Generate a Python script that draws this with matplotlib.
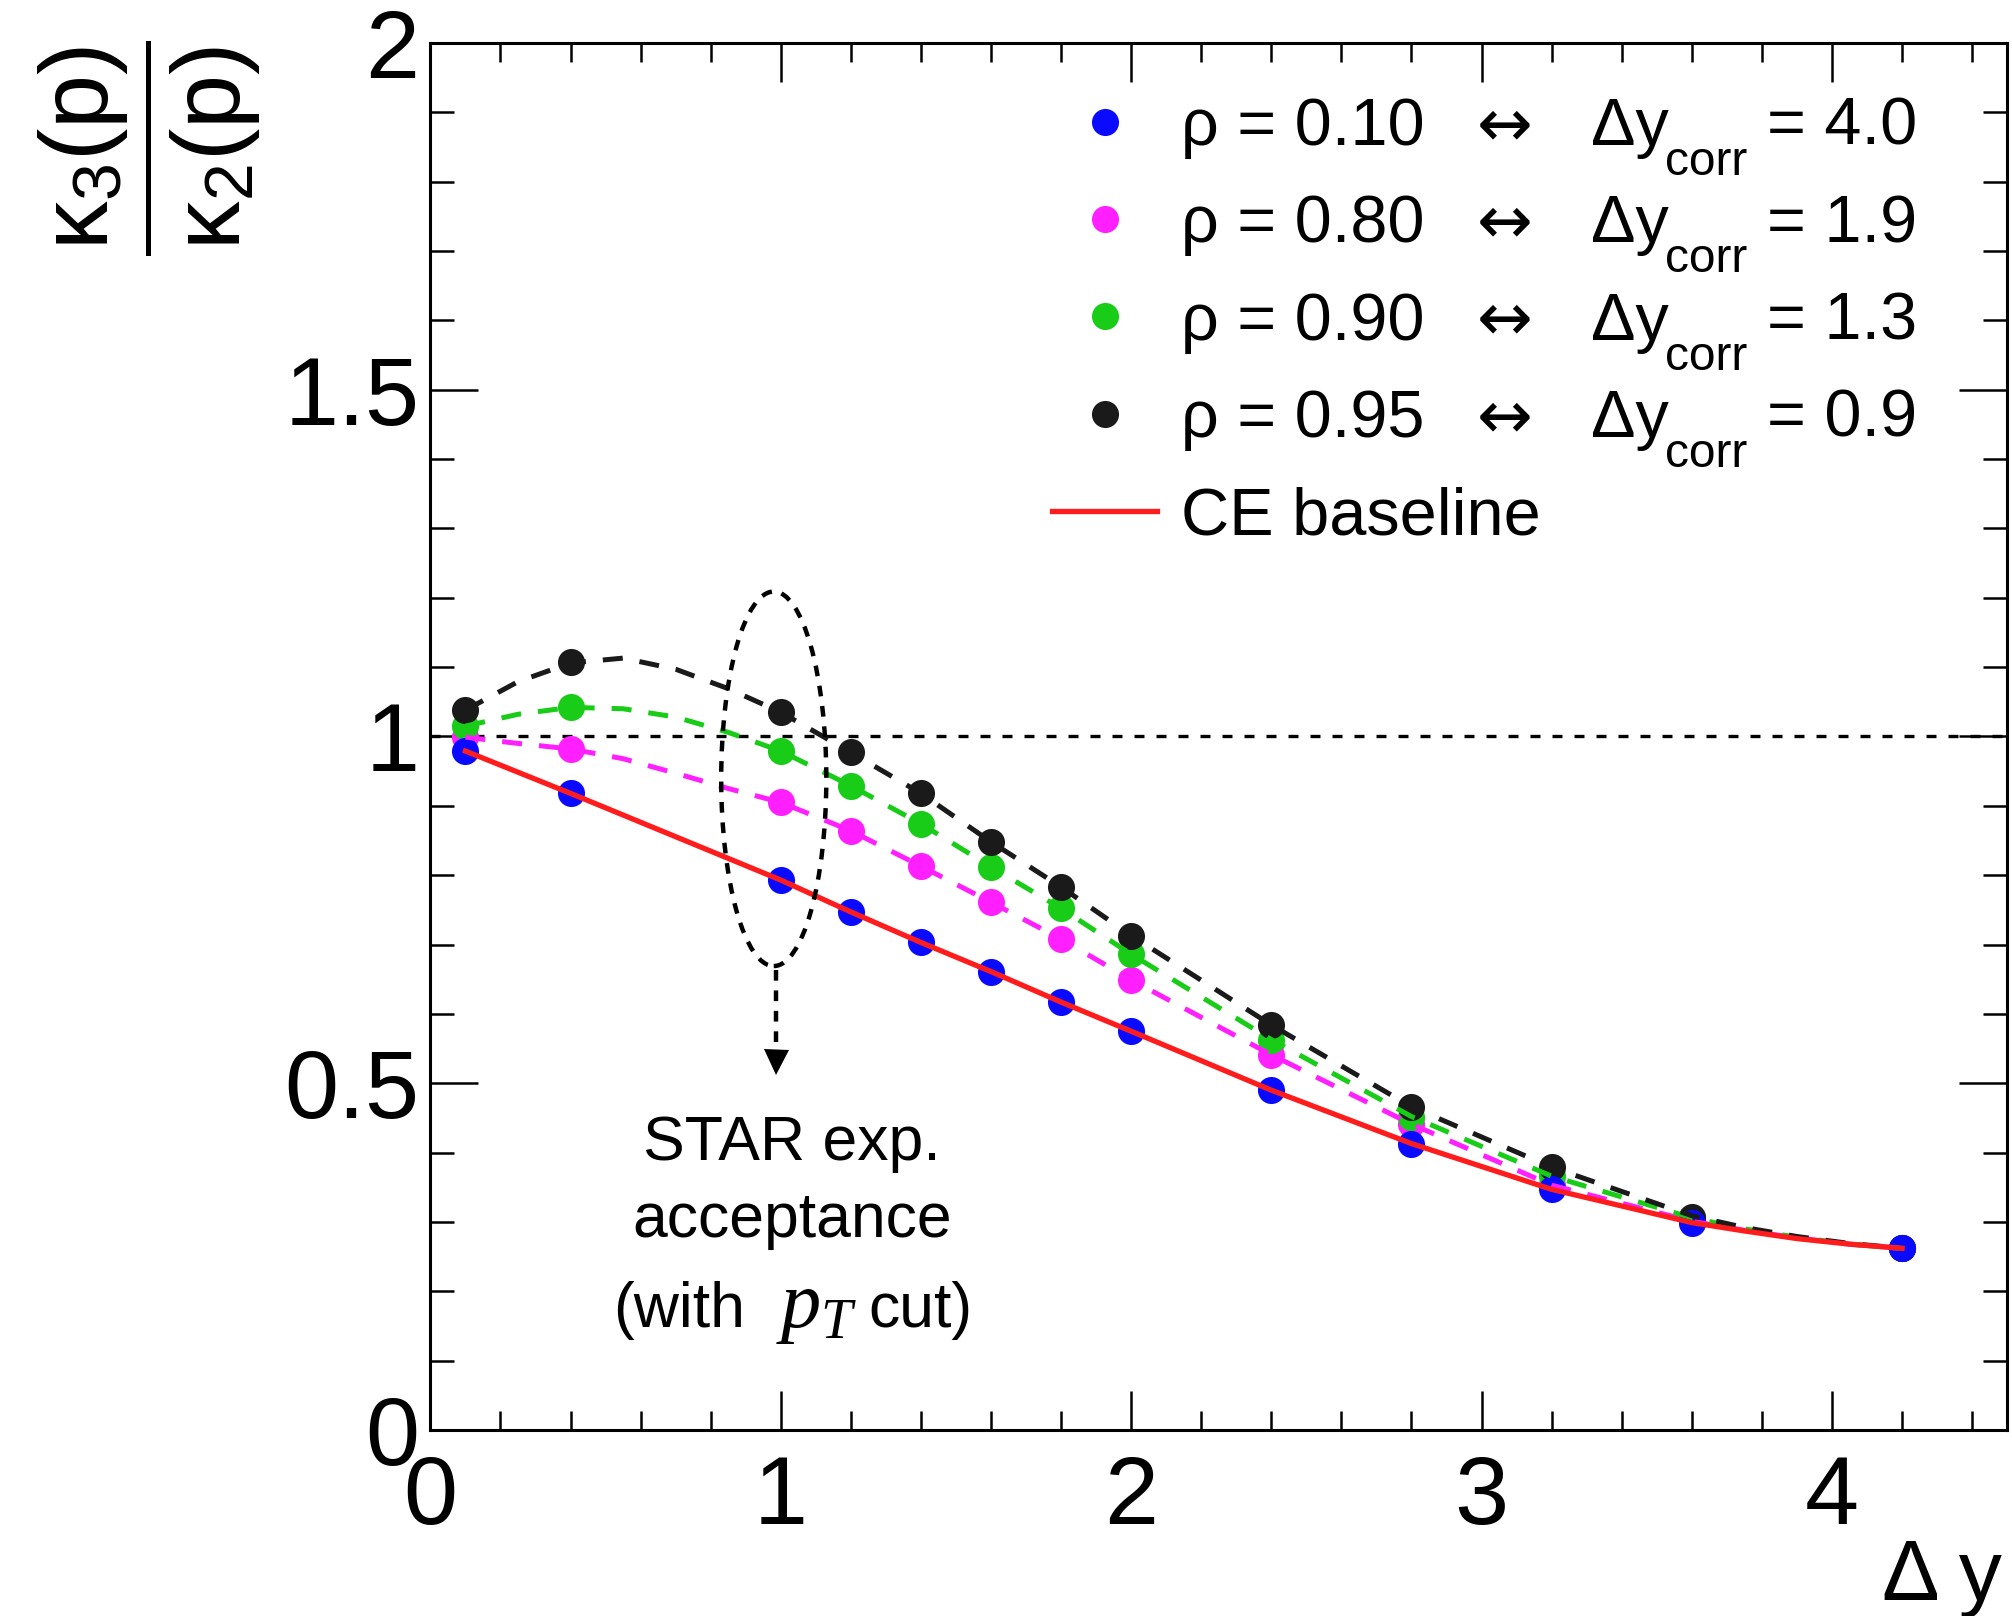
import matplotlib
matplotlib.use('Agg')
import matplotlib.pyplot as plt
from matplotlib.patches import Ellipse
from matplotlib.lines import Line2D
from matplotlib.ticker import MultipleLocator

plt.rcParams['font.family'] = ['Liberation Sans', 'DejaVu Sans']
plt.rcParams['mathtext.fontset'] = 'custom'
plt.rcParams['mathtext.rm'] = 'Liberation Sans'
plt.rcParams['mathtext.it'] = 'Liberation Serif:italic'
plt.rcParams['mathtext.bf'] = 'Liberation Sans:bold'
plt.rcParams['mathtext.sf'] = 'Liberation Sans'

# ---------------- data ----------------
dy = [0.1, 0.4, 1.0, 1.2, 1.4, 1.6, 1.8, 2.0, 2.4, 2.8, 3.2, 3.6, 4.2]
rho_010 = [0.979, 0.918, 0.793, 0.747, 0.703, 0.661, 0.617, 0.575, 0.490, 0.413, 0.347, 0.299, 0.262]
rho_080 = [0.999, 0.982, 0.905, 0.864, 0.813, 0.761, 0.708, 0.649, 0.541, 0.441, 0.353, 0.301, 0.262]
rho_090 = [1.015, 1.042, 0.979, 0.929, 0.874, 0.812, 0.752, 0.686, 0.563, 0.452, 0.366, 0.306, 0.262]
rho_095 = [1.038, 1.108, 1.035, 0.977, 0.918, 0.848, 0.783, 0.713, 0.584, 0.466, 0.379, 0.307, 0.262]

# curves
dy_curve = [0.1, 0.25, 0.4, 0.55, 0.7, 0.85, 1.0, 1.2, 1.4, 1.6, 1.8, 2.0, 2.4, 2.8, 3.2, 3.6, 3.75, 3.9, 4.05, 4.2]
curve_080 = [0.999, 0.990, 0.982, 0.968, 0.947, 0.925, 0.905, 0.864, 0.813, 0.761, 0.708, 0.649, 0.541, 0.441, 0.353, 0.301, 0.288, 0.277, 0.268, 0.262]
curve_090 = [1.015, 1.032, 1.042, 1.040, 1.028, 1.006, 0.979, 0.929, 0.874, 0.812, 0.752, 0.686, 0.563, 0.452, 0.366, 0.306, 0.290, 0.278, 0.268, 0.262]
curve_095 = [1.038, 1.079, 1.106, 1.113, 1.097, 1.069, 1.035, 0.977, 0.918, 0.848, 0.783, 0.713, 0.584, 0.466, 0.379, 0.309, 0.292, 0.279, 0.269, 0.262]
dy_ce = [0.1, 0.4, 1.0, 1.2, 1.4, 1.6, 1.8, 2.0, 2.4, 2.8, 3.2, 3.6, 3.75, 3.9, 4.05, 4.2]
ce_baseline = [0.979, 0.918, 0.793, 0.747, 0.703, 0.661, 0.617, 0.575, 0.490, 0.413, 0.347, 0.299, 0.287, 0.276, 0.268, 0.262]

rho_labels = ["0.10", "0.80", "0.90", "0.95"]
dycorr_labels = ["4.0", "1.9", "1.3", "0.9"]
colors = ['#0a0aff', '#ff1fff', '#18cc18', '#1a1a1a']
red = '#ff1c1c'

x_ticks = [0, 1, 2, 3, 4]
x_ticklabels = ["0", "1", "2", "3", "4"]
y_ticks = [0, 0.5, 1, 1.5, 2]
y_ticklabels = ["0", "0.5", "1", "1.5", "2"]

# ---------------- figure ----------------
W, H = 2012, 1616
fig = plt.figure(figsize=(W / 100, H / 100), dpi=100)
ax = fig.add_axes([0.2139, 0.1151, 0.7837, 0.8583])
ax.set_xlim(0, 4.5)
ax.set_ylim(0, 2)

ms = 19.5
series = [rho_010, rho_080, rho_090, rho_095]
for idx in [1, 2, 3, 0]:
    ax.plot(dy, series[idx], ls='none', marker='o', ms=ms, color=colors[idx],
            markeredgewidth=0, zorder=3)

dash = (0, (4.0, 3.4))
ax.plot(dy_curve, curve_080, ls=dash, lw=3.6, color=colors[1], zorder=4)
ax.plot(dy_curve, curve_090, ls=dash, lw=3.6, color=colors[2], zorder=4)
ax.plot(dy_curve, curve_095, ls=dash, lw=3.6, color=colors[3], zorder=4)
ax.plot(dy_ce, ce_baseline, ls='-', lw=3.8, color=red, zorder=5)

ax.axhline(1.0, ls=(0, (3.0, 3.6)), lw=2.4, color='black', zorder=2)

# acceptance ellipse and arrow
ell = Ellipse((0.98, 0.939), width=0.30, height=0.54, fill=False,
              ec='black', lw=3.2, ls=(0, (2.4, 2.2)), zorder=6)
ax.add_patch(ell)
ax.plot([0.987, 0.987], [0.664, 0.545], ls=(0, (2.4, 2.2)), lw=3.2, color='black', zorder=6)
ax.plot([0.987], [0.531], marker='v', ms=18, color='black', markeredgewidth=0, zorder=6)

ax.text(1.032, 0.389, "STAR exp.", ha='center', va='baseline', fontsize=45)
ax.text(1.032, 0.278, "acceptance", ha='center', va='baseline', fontsize=45)
ax.text(0.521, 0.1485, "(with", ha='left', va='baseline', fontsize=45)
ax.text(0.985, 0.1485, "$p_T$", ha='left', va='baseline', fontsize=58)
ax.text(1.249, 0.1485, "cut)", ha='left', va='baseline', fontsize=45)

# ticks
ax.set_xticks(x_ticks, x_ticklabels)
ax.set_yticks(y_ticks, y_ticklabels)
ax.xaxis.set_minor_locator(MultipleLocator(0.2))
ax.yaxis.set_minor_locator(MultipleLocator(0.1))
ax.tick_params(axis='both', which='both', direction='in', top=True, right=True,
               width=1.8, labelsize=70)
ax.tick_params(axis='x', which='major', length=28, pad=17)
ax.tick_params(axis='x', which='minor', length=14)
ax.tick_params(axis='y', which='major', length=34.5, pad=8)
ax.tick_params(axis='y', which='minor', length=17.5)
for sp in ax.spines.values():
    sp.set_linewidth(2.2)

# legend (handles + first column of text)
handles = [Line2D([], [], ls='none', marker='o', ms=ms, color=c, markeredgewidth=0) for c in colors]
handles.append(Line2D([], [], ls='-', lw=3.8, color=red))
labels = [f"ρ = {r}" for r in rho_labels] + ["CE baseline"]
anchor_y = 0.965
leg = ax.legend(handles, labels, loc='upper left', bbox_to_anchor=(0.3943, anchor_y),
                frameon=False, fontsize=48, handlelength=1.58, handletextpad=0.35,
                labelspacing=0.53, borderaxespad=0, borderpad=0)

# align first legend row baseline with the reference (145 px from the top)
fig.canvas.draw()
t0 = leg.get_texts()[0]
base0 = t0.get_transform().transform(t0.get_position())[1]
target = H - 145
shift = (target - base0) / ax.bbox.height
leg.set_bbox_to_anchor((0.3943, anchor_y + shift), transform=ax.transAxes)
fig.canvas.draw()

# remaining legend columns, placed on each legend row's baseline
inv = ax.transAxes.inverted()
ax_h = ax.bbox.height
for i, t in enumerate(leg.get_texts()[:4]):
    bx, by = t.get_transform().transform(t.get_position())
    yb = inv.transform((bx, by))[1]
    ax.text(0.6812, yb, "↔", family='DejaVu Sans', ha='center', va='baseline',
            fontsize=48, transform=ax.transAxes)
    ax.text(0.7361, yb, "Δy", ha='left', va='baseline', fontsize=48, transform=ax.transAxes)
    ax.text(0.7830, yb - 30 / ax_h, "corr", ha='left', va='baseline', fontsize=34.5,
            transform=ax.transAxes)
    ax.text(0.8477, yb, f"= {dycorr_labels[i]}", ha='left', va='baseline', fontsize=48,
            transform=ax.transAxes)

# axis titles
fig.text(83 / W, 1 - 148 / H, "κ$_3$(p)", rotation=90, ha='center', va='center', fontsize=70)
fig.text(215 / W, 1 - 148 / H, "κ$_2$(p)", rotation=90, ha='center', va='center', fontsize=70)
fig.add_artist(Line2D([148 / W, 148 / W], [1 - 43 / H, 1 - 253 / H],
                      color='black', lw=3.6, transform=fig.transFigure))
fig.text(2002 / W, 16 / H, "Δ y", ha='right', va='baseline', fontsize=62)

fig.savefig('out.png', dpi=100)
